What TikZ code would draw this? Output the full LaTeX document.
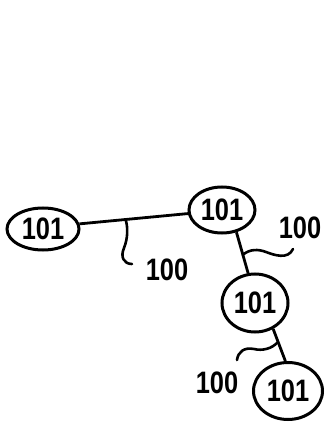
\documentclass[tikz,border=0pt]{standalone}
\usepackage{fontspec}
\setmainfont{Liberation Sans}
\usetikzlibrary{shapes.geometric,calc}
\newcommand{\numref}[1]{\scalebox{0.82}[1]{\fontsize{31}{31}\selectfont\bfseries #1}}
\tikzset{
  nodo/.style={draw=black, line width=3pt, ellipse, inner sep=0pt},
  enlace/.style={line width=2.8pt},
  guia/.style={line width=2.6pt, line cap=round},
  etiq/.style={inner sep=0pt},
}
\begin{document}
\begin{tikzpicture}[x=1pt, y=1pt]
\useasboundingbox (0,0) rectangle (328,424);
% estaciones
\node[nodo, minimum width=72pt, minimum height=42pt] (n1) at (43,195) {\numref{101}};
\node[nodo, minimum width=66pt, minimum height=46pt] (n2) at (222,214) {\numref{101}};
\node[nodo, minimum width=66pt, minimum height=58pt] (n3) at (255,121) {\numref{101}};
\node[nodo, minimum width=69pt, minimum height=57pt] (n4) at (288,33) {\numref{101}};

% enlaces
\draw[enlace] (n1.8) -- (n2.186);
\draw[enlace] (n2.-57) -- (n3.103);
\draw[enlace] (n3.-55) -- (n4.95);

% referencias
\coordinate (w1) at ($(n1.8)!0.425!(n2.186)$);
\coordinate (w2) at ($(n2.-57)!0.55!(n3.103)$);
\coordinate (w3) at ($(n3.-55)!0.4!(n4.95)$);
\coordinate (e1) at (132,160);
\coordinate (e2) at (293,175);
\coordinate (e3) at (237,64);
\node[etiq] (r1) at (167,154) {\numref{100}};
\node[etiq] (r2) at (300,196) {\numref{100}};
\node[etiq] (r3) at (217,41) {\numref{100}};

\draw[guia] (w1) .. controls (128,197) and (128,186) .. (124,176) .. controls (120,167) and (124,160) .. (e1);
\draw[guia] (w2) .. controls (250,175) and (258,175) .. (266,172) .. controls (274,169) and (288,164) .. (e2);
\draw[guia] (w3) .. controls (272,75) and (262,73) .. (254,75) .. controls (244,77) and (238,72) .. (e3);
\end{tikzpicture}
\end{document}
